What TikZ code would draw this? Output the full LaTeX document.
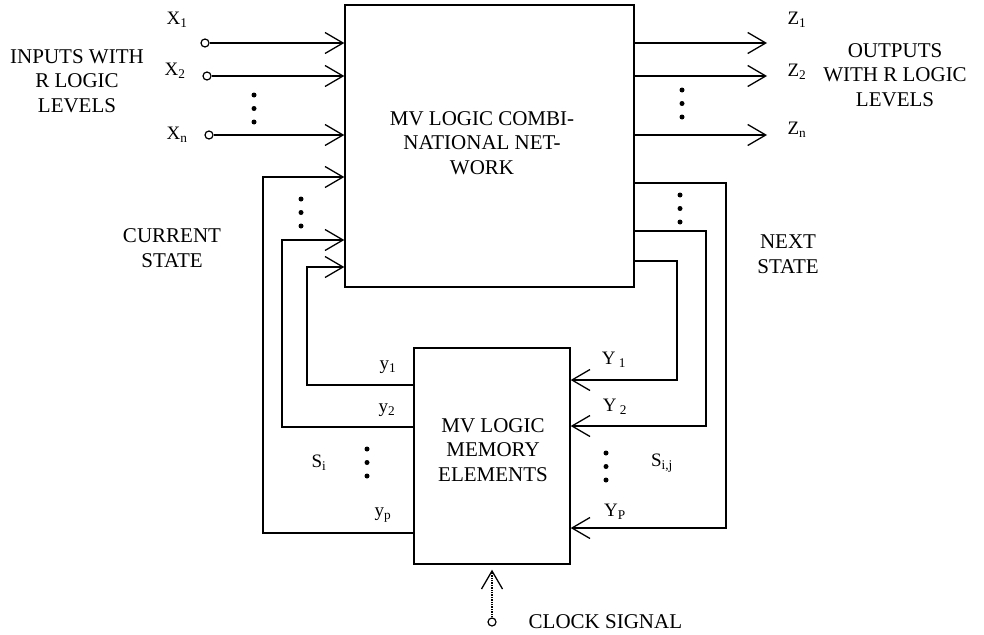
\documentclass[tikz,border=0pt]{standalone}
\usepackage{fontspec}
\setmainfont{Liberation Serif}
\usetikzlibrary{arrows.meta}

\tikzset{
  arr/.style={-{Straight Barb[length=18pt,width=21pt,line width=1.3pt]}},
  port/.style={circle,draw,line width=1.2pt,fill=white,inner sep=0pt,minimum size=8pt},
  lbl/.style={font=\fontsize{21}{24.5}\selectfont,inner sep=0pt,align=center},
  sub/.style={font=\fontsize{19}{22}\selectfont,inner sep=0pt},
  vdot/.style={circle,fill,inner sep=0pt,minimum size=5pt}
}

\begin{document}
\begin{tikzpicture}[x=1pt,y=-1pt,line width=1.4pt]
    \useasboundingbox (0,0) rectangle (984,634);
    \node[draw,minimum width=289pt,minimum height=282pt] (cn) at (489.5,146) {};
    \node[draw,minimum width=156pt,minimum height=216pt] (mem) at (492,456) {};
    \node[lbl] (cntxt) at (482,143) {MV LOGIC COMBI-\\NATIONAL NET-\\WORK};
    \node[lbl] (memtxt) at (493,450) {MV LOGIC\\MEMORY\\ELEMENTS};

    % inputs
    \node[port] (x1) at (205,43) {};
    \node[port] (x2) at (207,76) {};
    \node[port] (xn) at (209,135) {};
    \draw[arr] (x1) -- (x1 -| cn.west);
    \draw[arr] (x2) -- (x2 -| cn.west);
    \draw[arr] (xn) -- (xn -| cn.west);
    \node[sub] (lx1) at (177,20) {X\textsubscript{1}};
    \node[sub] (lx2) at (175,71) {X\textsubscript{2}};
    \node[sub] (lxn) at (177,135) {X\textsubscript{n}};
    \node[lbl] (inp) at (77,81) {INPUTS WITH\\R LOGIC\\LEVELS};

    % outputs
    \coordinate (z1) at (767,43);
    \coordinate (z2) at (767,76);
    \coordinate (zn) at (767,135);
    \draw[arr] (z1 -| cn.east) -- (z1);
    \draw[arr] (z2 -| cn.east) -- (z2);
    \draw[arr] (zn -| cn.east) -- (zn);
    \node[sub] (lz1) at (797,20) {Z\textsubscript{1}};
    \node[sub] (lz2) at (797,72) {Z\textsubscript{2}};
    \node[sub] (lzn) at (797,130) {Z\textsubscript{n}};
    \node[lbl] (outp) at (895,75) {OUTPUTS\\WITH R LOGIC\\LEVELS};

    % current state
    \draw[arr] (mem.west |- 0,385) -| (307,267) -- (cn.west |- 0,267);
    \draw[arr] (mem.west |- 0,427) -| (282,240) -- (cn.west |- 0,240);
    \draw[arr] (mem.west |- 0,533) -| (263,177) -- (cn.west |- 0,177);
    \node[sub] (ly1) at (388,367) {y\textsubscript{1}};
    \node[sub] (ly2) at (387,410) {y\textsubscript{2}};
    \node[sub] (lyp) at (383,515) {y\textsubscript{p}};
    \node[sub] (lsi) at (319,463) {S\textsubscript{i}};
    \node[lbl] (cur) at (172,248) {CURRENT\\STATE};

    % next state
    \draw[arr] (cn.east |- 0,261) -| (677,380) -- (mem.east |- 0,380);
    \draw[arr] (cn.east |- 0,231) -| (706,426) -- (mem.east |- 0,426);
    \draw[arr] (cn.east |- 0,183) -| (726,528) -- (mem.east |- 0,528);
    \node[sub] (lY1) at (614,360) {Y\,\textsubscript{1}};
    \node[sub] (lY2) at (615,407) {Y\,\textsubscript{2}};
    \node[sub] (lYp) at (615,512) {Y\textsubscript{P}};
    \node[sub] (lsij) at (662,463) {S\textsubscript{i,j}};
    \node[lbl] (nxt) at (788,254) {NEXT\\STATE};

    \foreach \x/\y in {254/95,682/90,301/199,680/195,367/449,606/453}
        \foreach \k in {0,1,2}
            \node[vdot] (d\x\k) at (\x,\y+13.5*\k) {};

    % clock
    \node[port] (clk) at (mem.south |- 0,622) {};
    \draw[arr,densely dotted] (clk) -- ([yshift=-5pt]mem.south);
    \node[lbl,anchor=west] (clktxt) at (528,622) {CLOCK SIGNAL};
\end{tikzpicture}
\end{document}
